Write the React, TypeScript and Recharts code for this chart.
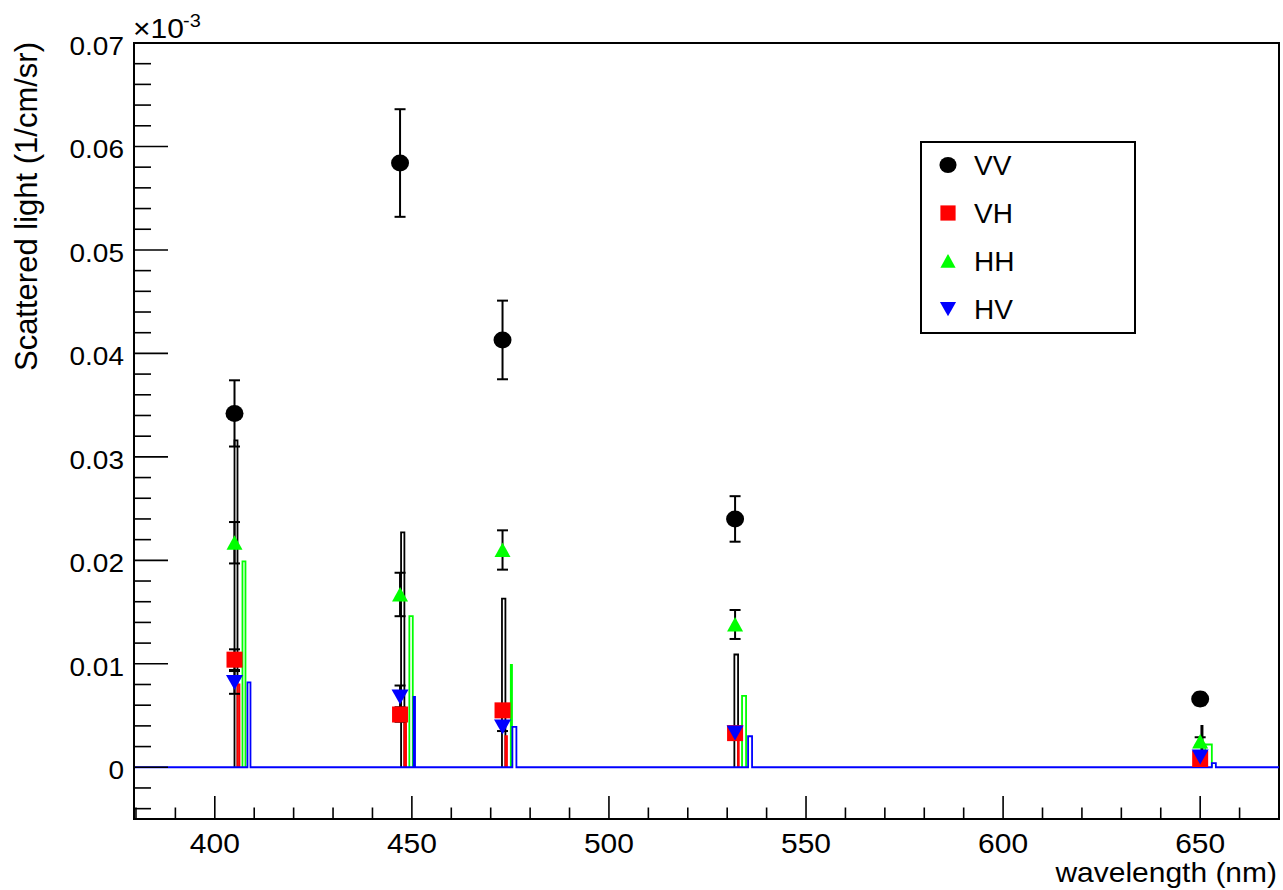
import React from "react";
import {
  ComposedChart,
  Line,
  Scatter,
  ErrorBar,
  XAxis,
  YAxis,
  ReferenceArea,
  Legend,
} from "recharts";

const FONT = "'Liberation Sans', Arial, Helvetica, sans-serif";

// axis ranges
const X_MIN = 379.5;
const X_MAX = 670;
const Y_MIN = -0.005;
const Y_MAX = 0.07;

const seriesNames = ["VV", "VH", "HH", "HV"];
const wavelengths = [405, 447, 473, 532, 650];

// graph points (markers + errors)
const vvValues = [0.0342, 0.0584, 0.0413, 0.024, 0.0066];
const vvErrors = [0.0032, 0.0052, 0.0038, 0.0022, 0.0006];
const vhValues = [0.0104, 0.0051, 0.0055, 0.0033, 0.0008];
const vhErrors = [0.001, 0.0007, 0.0006, 0.0004, 0.0002];
const hhValues = [0.0217, 0.0167, 0.021, 0.0138, 0.0025];
const hhErrors = [0.002, 0.0021, 0.0019, 0.0014, 0.0004];
const hvValues = [0.0082, 0.0068, 0.0039, 0.0033, 0.001];
const hvErrors = [0.0011, 0.0011, 0.0004, 0.0003, 0.0002];

// histogram bins (lower edge, upper edge, content)
const vvHist = [0.0316, 0.0227, 0.0163, 0.0109, 0.004];
const vvBinLo = [405.0, 447.26, 472.86, 531.82, 650.3];
const vvBinHi = [405.76, 448.1, 473.73, 532.76, 650.6];
const vhHist = [0.008, 0.0045, 0.003, 0.0027, 0.0008];
const vhBinLo = [405.76, 448.1, 473.73, 532.76, 650.6];
const vhBinHi = [406.26, 448.53, 474.13, 532.94, 651.1];
const hhHist = [0.0199, 0.0146, 0.0099, 0.0069, 0.0022];
const hhBinLo = [407.02, 449.36, 475.1, 533.77, 651.3];
const hhBinHi = [407.78, 450.23, 475.4, 534.79, 652.96];
const hvHist = [0.0082, 0.0068, 0.0039, 0.003, 0.0004];
const hvBinLo = [408.29, 450.45, 475.5, 535.3, 652.96];
const hvBinHi = [409.05, 450.8, 476.52, 536.31, 653.98];

// ticks
const xMajorLabels = [400, 450, 500, 550, 600, 650];
const yMajorLabels = ["0", "0.01", "0.02", "0.03", "0.04", "0.05", "0.06", "0.07"];

const xTicks: number[] = [];
for (let v = 380; v <= 670; v += 10) xTicks.push(v);
const yTicks: number[] = [];
for (let i = -2; i <= 35; i++) yTicks.push(Number((i * 0.002).toFixed(3)));

const isMajorY = (v: number) => Math.round(v * 1000) % 10 === 0 && v >= 0;

const points = (vals: number[], errs: number[]) =>
  wavelengths.map((x, i) => ({ x, y: vals[i], err: errs[i] }));

// step outline of a histogram; only the last one carries the full baseline
const histPoints = (lo: number[], hi: number[], vals: number[], full: boolean) => {
  const pts: { x: number; y: number | null }[] = [];
  if (full) pts.push({ x: X_MIN, y: 0 });
  lo.forEach((l, i) => {
    if (!full && i > 0) pts.push({ x: (hi[i - 1] + l) / 2, y: null });
    pts.push({ x: l, y: 0 }, { x: l, y: vals[i] }, { x: hi[i], y: vals[i] }, { x: hi[i], y: 0 });
  });
  if (full) pts.push({ x: X_MAX, y: 0 });
  return pts;
};

const hists = [
  { name: "VV", color: "#000000", pts: histPoints(vvBinLo, vvBinHi, vvHist, false) },
  { name: "VH", color: "#ff0000", pts: histPoints(vhBinLo, vhBinHi, vhHist, false) },
  { name: "HH", color: "#00ff00", pts: histPoints(hhBinLo, hhBinHi, hhHist, false) },
  { name: "HV", color: "#0000ff", pts: histPoints(hvBinLo, hvBinHi, hvHist, true) },
];

const Marker = ({ kind, cx, cy }: { kind: string; cx: number; cy: number }) => {
  if (kind === "VV") return <ellipse cx={cx} cy={cy} rx={9} ry={8.5} fill="#000" />;
  if (kind === "VH") return <rect x={cx - 8} y={cy - 8} width={16} height={16} fill="#ff0000" />;
  if (kind === "HH")
    return <polygon points={`${cx},${cy - 7.5} ${cx + 8},${cy + 7} ${cx - 8},${cy + 7}`} fill="#00ff00" />;
  return <polygon points={`${cx - 8.5},${cy - 7.5} ${cx + 8.5},${cy - 7.5} ${cx},${cy + 7.5}`} fill="#0000ff" />;
};

const graphs = [
  { name: seriesNames[0], data: points(vvValues, vvErrors) },
  { name: seriesNames[1], data: points(vhValues, vhErrors) },
  { name: seriesNames[2], data: points(hhValues, hhErrors) },
  { name: seriesNames[3], data: points(hvValues, hvErrors) },
];

// horizontal text, slightly squashed like the reference
const SText = ({ x, y, size, anchor, children, sy = 0.9 }: any) => (
  <text
    transform={`translate(${x},${y}) scale(1,${sy})`}
    fontSize={size}
    textAnchor={anchor}
    fontFamily={FONT}
    fill="#000"
  >
    {children}
  </text>
);

const XTick = (props: any) => {
  const { x, y, payload } = props;
  const v = payload.value;
  const major = xMajorLabels.includes(v);
  return (
    <g>
      <line x1={x} x2={x} y1={y} y2={y - (major ? 23 : 11.5)} stroke="#000" strokeWidth={1.6} />
      {major && (
        <SText x={x} y={y + 34} size={30} anchor="middle">
          {String(v)}
        </SText>
      )}
    </g>
  );
};

const YTick = (props: any) => {
  const { x, y, payload } = props;
  const v = payload.value;
  const major = isMajorY(v);
  const label = yMajorLabels[Math.round(v * 100)];
  return (
    <g>
      <line x1={x} x2={x + (major ? 34 : 17)} y1={y} y2={y} stroke="#000" strokeWidth={1.6} />
      {major && (
        <SText x={x - 10} y={y + 12} size={28} anchor="end">
          {label}
        </SText>
      )}
    </g>
  );
};

const XTitle = (props: any) => {
  const vb = props.viewBox;
  return (
    <SText x={vb.x + vb.width - 2} y={vb.y + 63} size={30} anchor="end">
      wavelength (nm)
    </SText>
  );
};

const YTitle = (props: any) => {
  const vb = props.viewBox;
  const top = vb.y;
  const left = vb.x + vb.width;
  return (
    <g>
      <text
        transform={`translate(37,${top - 1}) rotate(-90)`}
        fontSize={31}
        textAnchor="end"
        fontFamily={FONT}
        fill="#000"
      >
        Scattered light (1/cm/sr)
      </text>
      <SText x={left - 1} y={top - 5} size={30} anchor="start">
        ×10
      </SText>
      <SText x={left + 49} y={top - 16} size={20} anchor="start">
        -3
      </SText>
    </g>
  );
};

const LegendBox = () => (
  <div
    style={{
      width: 216,
      height: 193,
      boxSizing: "border-box",
      border: "2px solid #000",
      background: "#fff",
    }}
  >
    <svg width={212} height={189}>
      {seriesNames.map((n, i) => {
        const cy = 22 + i * 48;
        return (
          <g key={n}>
            <g transform="scale(0.95)">
              <Marker kind={n} cx={26 / 0.95} cy={cy / 0.95} />
            </g>
            <text x={52} y={cy + 10} fontSize={28} fontFamily={FONT} fill="#000">
              {n}
            </text>
          </g>
        );
      })}
    </svg>
  </div>
);

export default function App() {
  return (
    <div
      style={{
        position: "absolute",
        left: 0,
        top: 0,
        width: 1283,
        height: 890,
        background: "#fff",
      }}
    >
      <ComposedChart width={1283} height={890} margin={{ top: 43, right: 4, bottom: 0, left: 0 }}>
        <XAxis
          type="number"
          dataKey="x"
          domain={[X_MIN, X_MAX]}
          ticks={xTicks}
          interval={0}
          allowDataOverflow
          height={71}
          tickSize={0}
          tickMargin={0}
          tickLine={false}
          tick={(p: any) => <XTick {...p} />}
          axisLine={{ stroke: "#000", strokeWidth: 2 }}
          label={{ content: XTitle }}
        />
        <YAxis
          type="number"
          dataKey="y"
          domain={[Y_MIN, Y_MAX]}
          ticks={yTicks}
          interval={0}
          allowDataOverflow
          width={134}
          tickSize={0}
          tickMargin={0}
          tickLine={false}
          tick={(p: any) => <YTick {...p} />}
          axisLine={{ stroke: "#000", strokeWidth: 2 }}
          label={{ content: YTitle }}
        />
        <ReferenceArea
          x1={X_MIN}
          x2={X_MAX}
          y1={Y_MIN}
          y2={Y_MAX}
          fill="none"
          stroke="#000"
          strokeWidth={2}
        />
        {hists.map((h) => (
          <Line
            key={"h" + h.name}
            data={h.pts}
            dataKey="y"
            type="linear"
            stroke={h.color}
            strokeWidth={1.8}
            dot={false}
            activeDot={false}
            legendType="none"
            isAnimationActive={false}
          />
        ))}
        {graphs.map((g) => (
          <Scatter
            key={"g" + g.name}
            name={g.name}
            data={g.data}
            shape={(p: any) => <Marker kind={g.name} cx={p.cx} cy={p.cy} />}
            isAnimationActive={false}
          >
            <ErrorBar dataKey="err" direction="y" width={5.5} stroke="#000" strokeWidth={2} />
          </Scatter>
        ))}
        <Legend
          layout="horizontal"
          verticalAlign="middle"
          align="center"
          content={() => <LegendBox />}
          wrapperStyle={{ left: 920, top: 141, width: 216, height: 193 }}
        />
      </ComposedChart>
    </div>
  );
}
